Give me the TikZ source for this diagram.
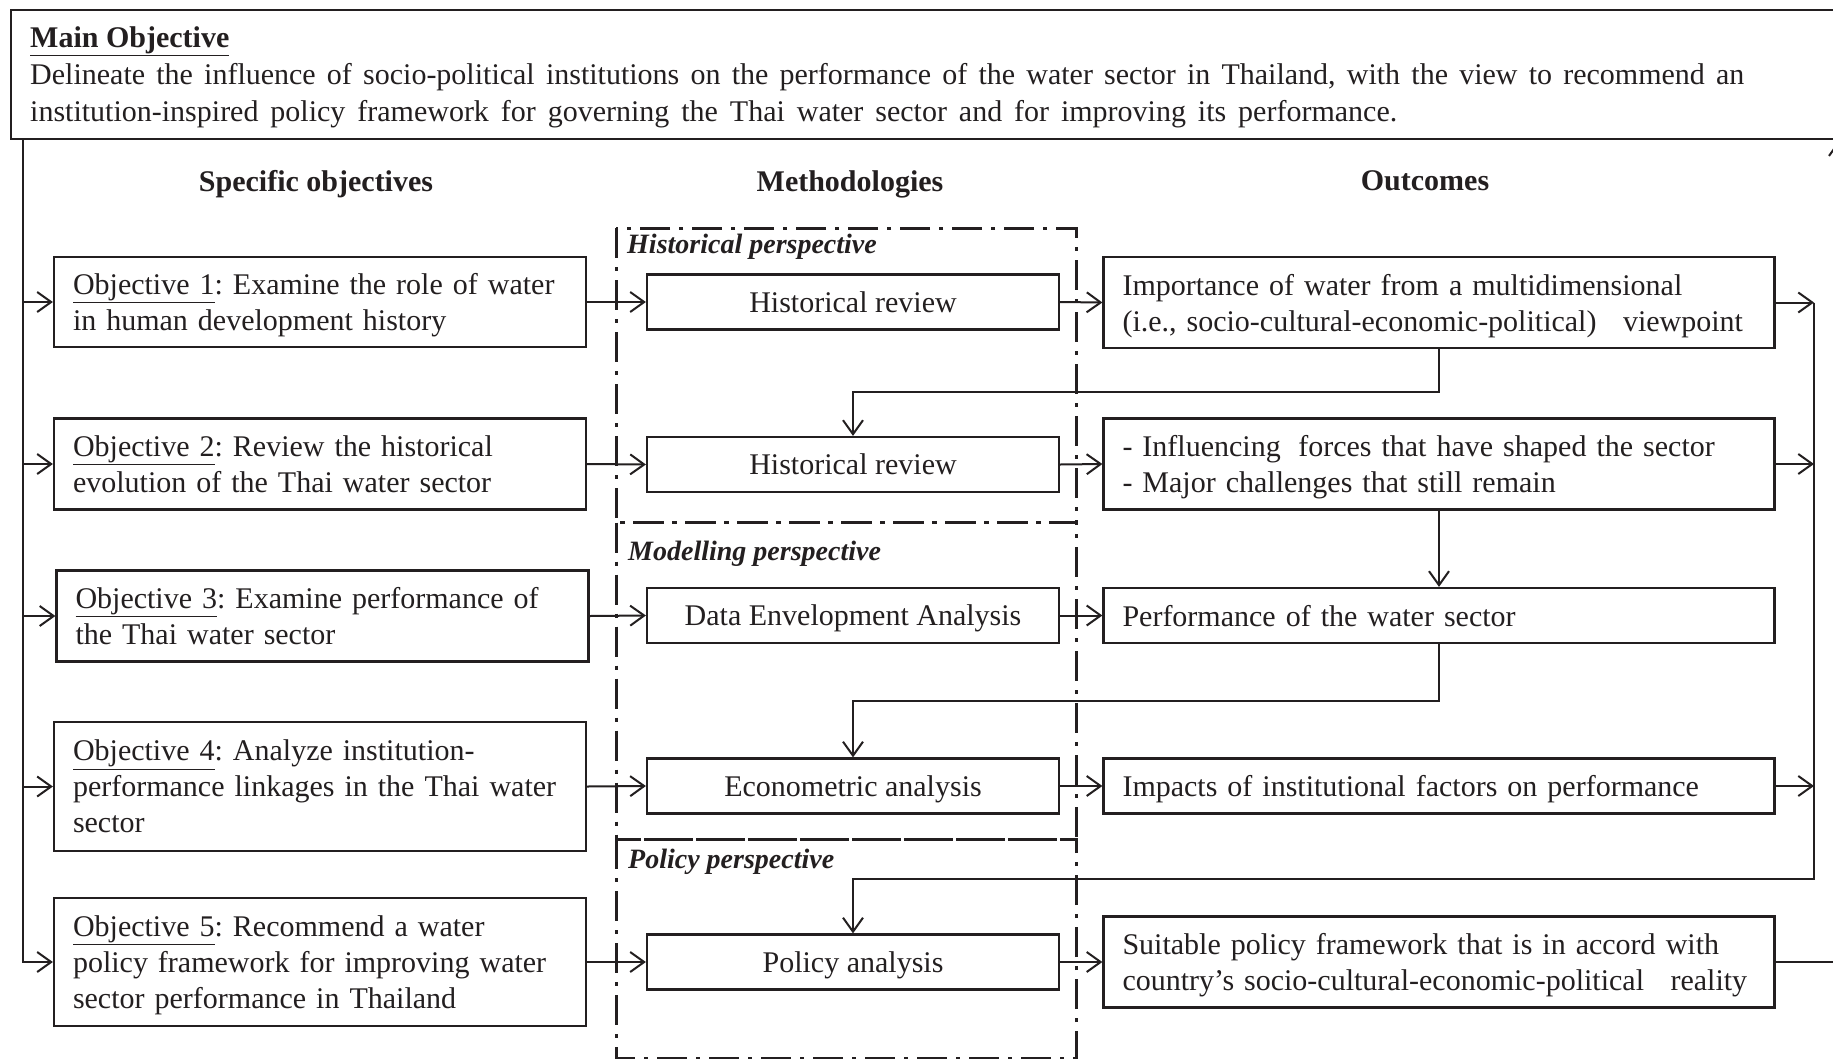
\documentclass[tikz,border=0pt]{standalone}
\usepackage{fontspec}
\setmainfont{Liberation Serif}
\usetikzlibrary{arrows.meta}
\definecolor{ink}{RGB}{35,31,32}
\newcommand\fsz{\fontsize{30}{36}\selectfont}
\newcommand\myul[1]{\underline{#1}}
\newcommand\nd[1]{\raisebox{0pt}[\height][0pt]{#1}}
\frenchspacing
\begin{document}
\begin{tikzpicture}[x=1pt,y=-1pt,
  box/.style={draw=ink, line width=2.2pt, fill=white, inner ysep=0pt, font=\fsz, text=ink},
  objbox/.style={box, text width=494pt, inner xsep=19pt, align=left},
  metbox/.style={box, minimum width=412pt, minimum height=55pt, align=center, text depth=0pt},
  outbox/.style={box, text width=633pt, inner xsep=19pt, align=left},
  ln/.style={draw=ink, line width=2pt},
  arr/.style={draw=ink, line width=2pt, -{Straight Barb[length=14pt,width=20pt]}},
  persp/.style={draw=ink, line width=3pt, dash pattern=on 30pt off 9pt on 4pt off 9pt},
  hdr/.style={font=\fsz\bfseries, text=ink, text depth=0pt},
  plabel/.style={font=\fontsize{28}{34}\selectfont\bfseries\itshape, text=ink, anchor=west, inner sep=0pt, text depth=0pt},
  mtext/.style={font=\fsz, text=ink, anchor=base west, inner sep=0pt}]
\useasboundingbox (0,0) rectangle (1833,1058);
\clip (0,0) rectangle (1833,1058);
\fill[white] (0,0) rectangle (1833,1058);

% main objective box
\node[draw=ink, line width=2.2pt, minimum width=1870pt, minimum height=129pt, anchor=north west, inner sep=0pt] (main) at (10,9) {};
\node[mtext, font=\fsz\bfseries] (mt) at (30,47) {\myul{Main Objective}};
\node[mtext] (ml1) at (30,84) {\makebox[1714pt][s]{Delineate the influence of socio-political institutions on the performance of the water sector in Thailand, with the view to recommend an}};
\node[mtext] (ml2) at (30,121) {\makebox[1367pt][s]{institution-inspired policy framework for governing the Thai water sector and for improving its performance.}};

\coordinate (L) at ([xshift=13pt]main.south west);
\coordinate (F) at ([xshift=1829pt]main.south west);

% headers
\node[hdr] (h1) at (316,181) {Specific objectives};
\node[hdr] (h2) at (850,181) {Methodologies};
\node[hdr] (h3) at (1425,181) {Outcomes};

% perspective frames
\draw[persp] (616,228) rectangle (1076.5,522.5);
\draw[persp] (616,522.5) rectangle (1076.5,839.3);
\draw[persp] (616,839.3) rectangle (1076.5,1058);
\node[plabel] (p1) at (627,244) {Historical perspective};
\node[plabel] (p2) at (628,551) {Modelling perspective};
\node[plabel] (p3) at (628,859) {Policy perspective};

% objectives
\node[objbox, minimum height=90pt] (o1) at (320,302) {\myul{Objective 1}: Examine the role of water\\\nd{in human development history}};
\node[objbox, minimum height=91pt] (o2) at (320,464) {\myul{Objective 2}: Review the historical\\\nd{evolution of the Thai water sector}};
\node[objbox, minimum height=91pt] (o3) at (322.5,616) {\myul{Objective 3}: Examine performance of\\\nd{the Thai water sector}};
\node[objbox, minimum height=128.6pt] (o4) at (320,786.5) {\myul{Objective 4}: Analyze institution-\\performance linkages in the Thai water\\\nd{sector}};
\node[objbox, minimum height=128.6pt] (o5) at (320,962) {\myul{Objective 5}: Recommend a water\\policy framework for improving water\\\nd{sector performance in Thailand}};

% methodologies
\node[metbox] (m1) at (853,302) {Historical review};
\node[metbox] (m2) at (853,464.5) {Historical review};
\node[metbox] (m3) at (853,615.5) {Data Envelopment Analysis};
\node[metbox] (m4) at (853,786) {Econometric analysis};
\node[metbox] (m5) at (853,962) {Policy analysis};

% outcomes
\node[outbox, minimum height=91pt] (r1) at (1439,302.5) {Importance of water from a multidimensional\\\nd{(i.e., socio-cultural-economic-political)\hspace{0.55em} viewpoint}};
\node[outbox, minimum height=91pt] (r2) at (1439,464) {- Influencing\hspace{0.25em} forces that have shaped the sector\\\nd{- Major challenges that still remain}};
\node[outbox, minimum height=55pt] (r3) at (1439,615.5) {\nd{Performance of the water sector}};
\node[outbox, minimum height=55pt] (r4) at (1439,786) {\nd{Impacts of institutional factors on performance}};
\node[outbox, minimum height=91pt] (r5) at (1439,962) {Suitable policy framework that is in accord with\\\nd{country’s socio-cultural-economic-political\hspace{0.55em} reality}};

\coordinate (R) at (1814,302.5);

% left feed line
\draw[arr] (L) |- (o5.west);
\draw[arr] (L |- o1.west) -- (o1.west);
\draw[arr] (L |- o2.west) -- (o2.west);
\draw[arr] (L |- o3.west) -- (o3.west);
\draw[arr] (L |- o4.west) -- (o4.west);

% objective -> method
\draw[arr] (o1.east) -- (m1.west);
\draw[arr] (o2.east) -- (m2.west);
\draw[arr] (o3.east) -- (m3.west);
\draw[arr] (o4.east) -- (m4.west);
\draw[arr] (o5.east) -- (m5.west);

% method -> outcome
\draw[arr] (m1.east) -- (r1.west);
\draw[arr] (m2.east) -- (r2.west);
\draw[arr] (m3.east) -- (r3.west);
\draw[arr] (m4.east) -- (r4.west);
\draw[arr] (m5.east) -- (r5.west);

% feedback
\draw[arr] (r1.south) -- ++(0,43) -| (m2.north);
\draw[arr] (r2.south) -- (r3.north);
\draw[arr] (r3.south) -- ++(0,57) -| (m4.north);

% right collector
\draw[arr] (r1.east) -- (R);
\draw[arr] (r2.east) -- (r2.east -| R);
\draw[arr] (r4.east) -- (r4.east -| R);
\draw[arr] (R) -- ++(0,576.5) -| (m5.north);

% to main objective
\draw[arr] (r5.east) -| (F);
\end{tikzpicture}
\end{document}
